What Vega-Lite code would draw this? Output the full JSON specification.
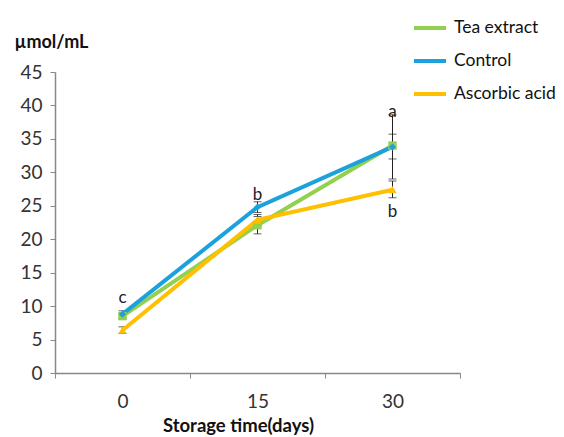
{
  "$schema": "https://vega.github.io/schema/vega-lite/v6.json",
  "width": 405,
  "height": 301,
  "autosize": "none",
  "padding": {"left": 55, "top": 72, "right": 104, "bottom": 64},
  "background": "white",
  "config": {
    "font": "Lato",
    "view": {"stroke": null},
    "axisY": {
      "grid": false,
      "tickCount": 10,
      "labelFontSize": 19,
      "labelColor": "#333333",
      "labelPadding": 8,
      "labelOverlap": false,
      "tickSize": 5,
      "tickColor": "#888888",
      "domainColor": "#888888",
      "domainWidth": 1.5
    }
  },
  "datasets": {
    "series": [
      {"day": 0, "series": "Tea extract", "value": 8.5, "lo": 8.0, "hi": 9.0},
      {"day": 15, "series": "Tea extract", "value": 22.1, "lo": 20.8, "hi": 23.4},
      {"day": 30, "series": "Tea extract", "value": 34.0, "lo": 32.0, "hi": 35.7},
      {"day": 0, "series": "Ascorbic acid", "value": 6.4, "lo": 5.9, "hi": 6.9},
      {"day": 15, "series": "Ascorbic acid", "value": 22.9, "lo": 22.1, "hi": 23.7},
      {"day": 30, "series": "Ascorbic acid", "value": 27.4, "lo": 26.2, "hi": 28.7},
      {"day": 0, "series": "Control", "value": 8.8, "lo": 8.3, "hi": 9.3},
      {"day": 15, "series": "Control", "value": 24.8, "lo": 24.0, "hi": 25.6},
      {"day": 30, "series": "Control", "value": 33.8, "lo": 29.0, "hi": 38.6}
    ],
    "letters": [
      {"day": 0, "value": 11.2, "label": "c", "dx": -6},
      {"day": 15, "value": 26.6, "label": "b", "dx": 0},
      {"day": 30, "value": 39.0, "label": "a", "dx": 7},
      {"day": 30, "value": 24.0, "label": "b", "dx": 1}
    ]
  },
  "encoding": {
    "x": {
      "field": "day",
      "type": "ordinal",
      "bandPosition": 0.5,
      "scale": {"type": "band", "paddingInner": 0, "paddingOuter": 0},
      "axis": {
        "tickBand": "extent",
        "labelAngle": 0,
        "labelFontSize": 19,
        "labelColor": "#333333",
        "labelPadding": 14,
        "tickSize": 5,
        "tickColor": "#888888",
        "domainColor": "#888888",
        "domainWidth": 1.5,
        "title": "Storage time(days)",
        "titleFontSize": 18.5,
        "titleFontWeight": "bold",
        "titleColor": "#111111",
        "titleX": 183,
        "titleY": 52,
        "titleBaseline": "middle",
        "titleAlign": "center"
      }
    },
    "y": {
      "field": "value",
      "type": "quantitative",
      "scale": {"domain": [0, 45], "nice": false},
      "axis": {
        "values": [0, 5, 10, 15, 20, 25, 30, 35, 40, 45],
        "tickCount": 10,
        "labelOverlap": false,
        "title": "µmol/mL",
        "titleFontSize": 18,
        "titleFontWeight": "bold",
        "titleColor": "#111111",
        "titleAngle": 0,
        "titleAlign": "left",
        "titleBaseline": "middle",
        "titleX": -41,
        "titleY": -30
      }
    }
  },
  "layer": [
    {
      "data": {"name": "series"},
      "mark": {"type": "rule", "color": "#222222", "strokeWidth": 1},
      "encoding": {
        "y": {
          "field": "lo",
          "type": "quantitative",
          "scale": {"domain": [0, 45], "nice": false},
          "axis": {
            "values": [0, 5, 10, 15, 20, 25, 30, 35, 40, 45],
            "tickCount": 10,
            "labelOverlap": false,
            "title": "µmol/mL",
            "titleFontSize": 18,
            "titleFontWeight": "bold",
            "titleColor": "#111111",
            "titleAngle": 0,
            "titleAlign": "left",
            "titleBaseline": "middle",
            "titleX": -41,
            "titleY": -30
          }
        },
        "y2": {"field": "hi"}
      }
    },
    {
      "data": {"name": "series"},
      "mark": {"type": "tick", "color": "#222222", "size": 8, "thickness": 1},
      "encoding": {
        "y": {
          "field": "lo",
          "type": "quantitative",
          "scale": {"domain": [0, 45], "nice": false},
          "axis": {
            "values": [0, 5, 10, 15, 20, 25, 30, 35, 40, 45],
            "tickCount": 10,
            "labelOverlap": false,
            "title": "µmol/mL",
            "titleFontSize": 18,
            "titleFontWeight": "bold",
            "titleColor": "#111111",
            "titleAngle": 0,
            "titleAlign": "left",
            "titleBaseline": "middle",
            "titleX": -41,
            "titleY": -30
          }
        }
      }
    },
    {
      "data": {"name": "series"},
      "mark": {"type": "tick", "color": "#222222", "size": 8, "thickness": 1},
      "encoding": {
        "y": {
          "field": "hi",
          "type": "quantitative",
          "scale": {"domain": [0, 45], "nice": false},
          "axis": {
            "values": [0, 5, 10, 15, 20, 25, 30, 35, 40, 45],
            "tickCount": 10,
            "labelOverlap": false,
            "title": "µmol/mL",
            "titleFontSize": 18,
            "titleFontWeight": "bold",
            "titleColor": "#111111",
            "titleAngle": 0,
            "titleAlign": "left",
            "titleBaseline": "middle",
            "titleX": -41,
            "titleY": -30
          }
        }
      }
    },
    {
      "data": {"name": "series"},
      "mark": {"type": "line", "strokeWidth": 4},
      "encoding": {
        "color": {
          "field": "series",
          "type": "nominal",
          "scale": {
            "domain": ["Tea extract", "Control", "Ascorbic acid"],
            "range": ["#92D050", "#1DA1DC", "#FFC000"]
          },
          "legend": {
            "title": null,
            "orient": "none",
            "legendX": 357,
            "legendY": -62,
            "symbolType": "stroke",
            "symbolStrokeWidth": 4,
            "symbolSize": 1024,
            "labelFontSize": 17.5,
            "labelColor": "#111111",
            "labelOffset": 6,
            "rowPadding": 6
          }
        },
        "detail": {"field": "series"}
      }
    },
    {
      "data": {"name": "series"},
      "transform": [{"filter": "datum.series == 'Tea extract'"}],
      "mark": {"type": "point", "filled": true, "opacity": 1, "size": 70, "shape": "square"},
      "encoding": {
        "color": {"field": "series", "type": "nominal", "legend": null}
      }
    },
    {
      "data": {"name": "series"},
      "transform": [{"filter": "datum.series == 'Ascorbic acid'"}],
      "mark": {"type": "point", "filled": true, "opacity": 1, "size": 70, "shape": "triangle-up"},
      "encoding": {
        "color": {"field": "series", "type": "nominal", "legend": null}
      }
    },
    {
      "data": {"name": "series"},
      "transform": [{"filter": "datum.series == 'Control'"}],
      "mark": {"type": "point", "filled": true, "opacity": 1, "size": 50, "shape": "diamond"},
      "encoding": {
        "color": {"field": "series", "type": "nominal", "legend": null}
      }
    },
    {
      "data": {"name": "letters"},
      "mark": {"type": "text", "fontSize": 17, "color": "#222222", "baseline": "middle"},
      "encoding": {
        "text": {"field": "label"},
        "dx": {"field": "dx", "type": "quantitative", "scale": null}
      }
    }
  ]
}
